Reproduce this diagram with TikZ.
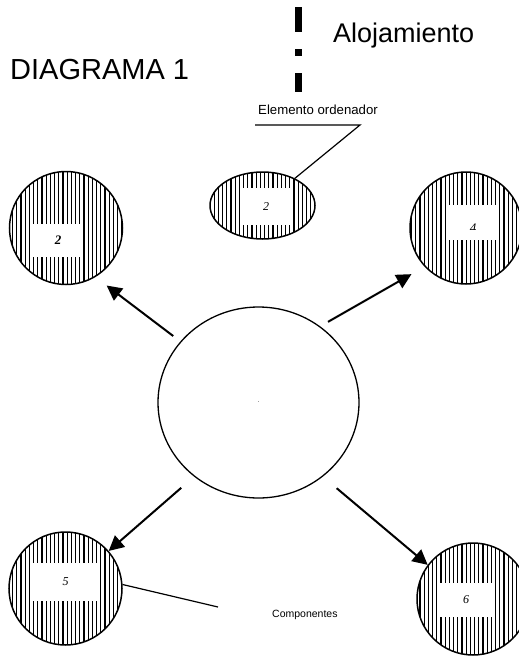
\documentclass[tikz,border=0pt]{standalone}
\usepackage{fontspec}
\setmainfont{Liberation Sans}
\newfontfamily\labelfont{Liberation Serif}
\usetikzlibrary{arrows.meta,patterns.meta,shapes.geometric}

\begin{document}
\begin{tikzpicture}[x=1pt, y=-1pt,
  hatched/.style={draw, line width=1.5pt, inner sep=0pt, pattern={Lines[angle=90, distance=4.2pt, line width=1.1pt]}},
  labelbox/.style={fill=white, inner sep=0pt, font=\labelfont\itshape\fontsize{12}{14}\selectfont},
  pointer/.style={line width=2pt, -{Triangle[length=15pt, width=15pt]}}]
\useasboundingbox (0,0) rectangle (519,656);

% titulo y alojamiento
\node[anchor=base west, inner sep=0pt, font=\fontsize{29}{33}\selectfont] (title) at (10,79) {DIAGRAMA 1};
\node[anchor=base west, inner sep=0pt, font=\fontsize{27}{31}\selectfont] (housing) at (333,42) {Alojamiento};
\coordinate (dashtop) at (298.5,7);
\coordinate (dashbot) at (298.5,92);
\draw[line width=7pt, dash pattern=on 25pt off 17pt on 7pt off 17pt on 19pt off 50pt] (dashtop) -- (dashbot);

% elemento ordenador
\node[ellipse, hatched, minimum width=105pt, minimum height=67pt] (c2) at (262.5,205.5) {};
\node[labelbox, minimum width=53pt, minimum height=37pt] (box2) at (266,206.5) {2};
\node[anchor=base west, inner sep=0pt, font=\fontsize{13.2}{15}\selectfont] (sorter) at (258,114) {Elemento ordenador};
\coordinate (sorterL) at (255,125);
\coordinate (sorterR) at (360,125);
\draw[line width=1.2pt] (sorterL) -- (sorterR) -- (c2.40);

% componentes
\node[circle, hatched, minimum size=113pt] (c3) at (66,228) {};
\node[labelbox, minimum width=50pt, minimum height=33pt, font=\labelfont\bfseries\itshape\fontsize{13}{15}\selectfont] (box3) at (58,240.5) {2};
\node[circle, hatched, minimum size=112pt] (c4) at (466,228) {};
\node[labelbox, minimum width=51pt, minimum height=35pt] (box4) at (472,222.5) {};
\begin{scope}
\clip (446,200) rectangle (498,229.5);
\node[font=\labelfont\itshape\fontsize{13}{15}\selectfont, inner sep=0pt, anchor=base] (num4) at (473,232.5) {4};
\end{scope}
\node[circle, hatched, minimum size=113pt] (c5) at (65.5,588.5) {};
\node[labelbox, minimum width=65pt, minimum height=38pt] (box5) at (65.5,581.7) {5};
\node[circle, hatched, minimum size=112pt] (c6) at (473,599) {};
\node[labelbox, minimum width=53pt, minimum height=34pt] (box6) at (466,599.7) {6};
\node[anchor=base west, inner sep=0pt, font=\fontsize{10.5}{12}\selectfont] (parts) at (272,617) {Componentes};
\coordinate (partsL) at (218,607);
\draw[line width=1.2pt] (c5.4) -- (partsL);

% principal
\node[ellipse, draw, line width=1.3pt, minimum width=201pt, minimum height=191pt, inner sep=0pt, font=\fontsize{6}{7}\selectfont] (main) at (258.5,402.5) {.};
\draw[pointer, shorten <=9pt, shorten >=14pt] (main.142) -- (c3.301);
\draw[pointer, shorten <=9pt, shorten >=15pt] (main.51) -- (c4.223);
\draw[pointer, shorten <=17pt] (main.229) -- (c5.41);
\draw[pointer, shorten <=18pt] (main.311) -- (c6.143);
\end{tikzpicture}
\end{document}
